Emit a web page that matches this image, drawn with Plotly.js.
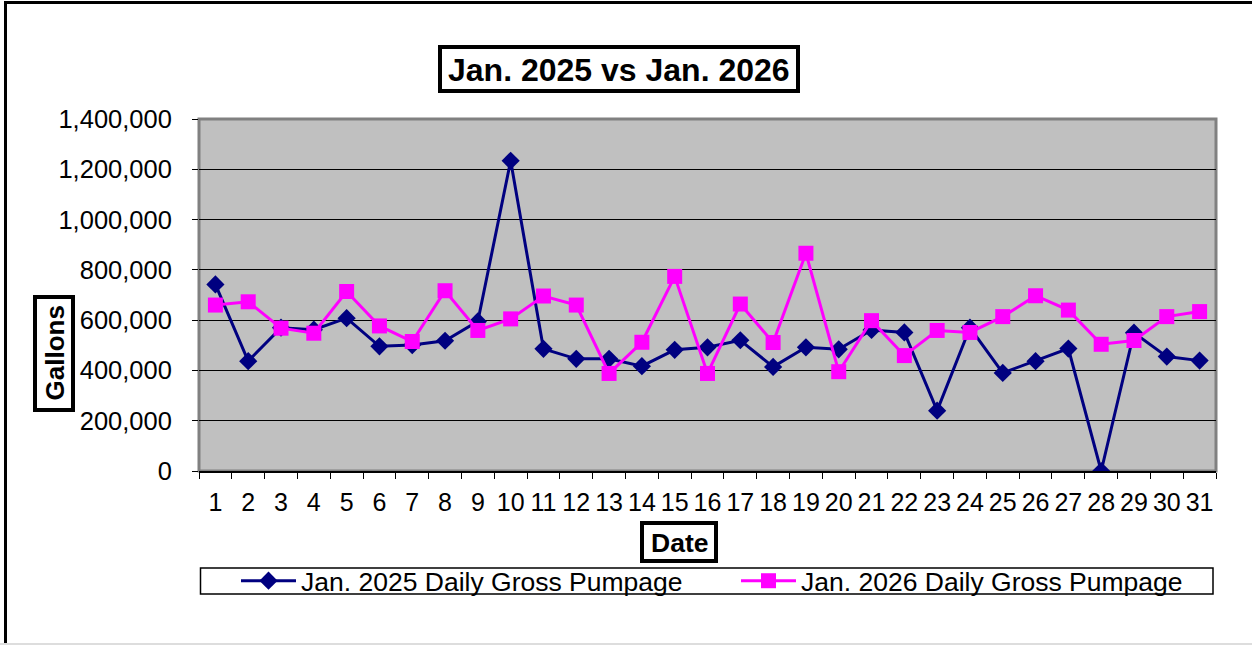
<!DOCTYPE html>
<html>
<head>
<meta charset="utf-8">
<script src="https://cdn.plot.ly/plotly-3.0.1.min.js"></script>
<style>html,body{margin:0;padding:0;background:#fff;}#chart{width:1252px;height:645px;}</style>
</head>
<body>
<div id="chart"></div>
<script>
// ---- data ----
const days = ['1','2','3','4','5','6','7','8','9','10','11','12','13','14','15','16','17','18','19','20','21','22','23','24','25','26','27','28','29','30','31'];
const pumpage2025 = [742000, 437000, 570000, 562000, 608000, 496000, 501000, 518000, 595000, 1234000, 486000, 446000, 446000, 417000, 482000, 492000, 520000, 414000, 492000, 484000, 561000, 551000, 240000, 570000, 390000, 437000, 487000, 0, 550000, 455000, 439000];
const pumpage2026 = [660000, 673000, 568000, 548000, 714000, 577000, 515000, 717000, 559000, 605000, 696000, 660000, 388000, 512000, 774000, 388000, 664000, 511000, 866000, 395000, 598000, 459000, 559000, 551000, 614000, 697000, 640000, 504000, 519000, 614000, 634000];
const seriesNames = ['Jan. 2025 Daily Gross Pumpage', 'Jan. 2026 Daily Gross Pumpage'];
const chartTitle = 'Jan. 2025 vs Jan. 2026';
const xTitle = 'Date';
const yTitle = 'Gallons';

// ---- layout geometry (pixels) ----
const W = 1252, H = 645;
const PL = 199, PR = 1216, PT = 119, PB = 471;
const px = x => (x - PL) / (PR - PL);
const py = y => (PB - y) / (PB - PT);
const FONT = 'Arial, "Liberation Sans", sans-serif';

function box(x0, y0, x1, y1, w, color) {
  return {type: 'rect', xref: 'paper', yref: 'paper', x0: px(x0), x1: px(x1), y0: py(y1), y1: py(y0),
          line: {color: color || '#000', width: w}, fillcolor: 'rgba(255,255,255,1)', layer: 'above'};
}

const traces = [
  {x: days, y: pumpage2025, name: seriesNames[0], type: 'scatter', mode: 'lines+markers',
   line: {color: '#000080', width: 3}, marker: {symbol: 'diamond', size: 14, color: '#000080'}},
  {x: days, y: pumpage2026, name: seriesNames[1], type: 'scatter', mode: 'lines+markers',
   line: {color: '#FF00FF', width: 3}, marker: {symbol: 'square', size: 15, color: '#FF00FF'}}
];

const layout = {
  width: W, height: H,
  margin: {l: PL, r: W - PR, t: PT, b: H - PB, pad: 0},
  paper_bgcolor: '#ffffff',
  plot_bgcolor: '#C0C0C0',
  font: {family: FONT, color: '#000'},
  showlegend: true,
  legend: {orientation: 'h', x: px(236), xanchor: 'left', y: py(581), yanchor: 'middle',
           font: {family: FONT, size: 26.5, color: '#000'}, bgcolor: 'rgba(0,0,0,0)',
           borderwidth: 0, entrywidth: 430, entrywidthmode: 'pixels', itemwidth: 55, tracegroupgap: 0},
  xaxis: {type: 'category', range: [-0.5, 30.5], tickson: 'boundaries', ticks: 'outside', ticklen: 6,
          tickcolor: '#000', tickwidth: 1, showgrid: false, showline: true, linecolor: '#000', linewidth: 2,
          tickangle: 0, tickfont: {family: FONT, size: 25, color: '#000'}, ticklabelstandoff: 8, fixedrange: true},
  yaxis: {range: [0, 1400000], dtick: 200000, tick0: 0, tickformat: ',d', ticks: 'outside', ticklen: 6,
          tickcolor: '#000', showgrid: true, gridcolor: '#000', gridwidth: 1, zeroline: false,
          showline: false, tickfont: {family: FONT, size: 25.5, color: '#000'}, ticklabelstandoff: 15, fixedrange: true},
  shapes: [
    // outer frame (top and left edges visible)
    {type: 'rect', xref: 'paper', yref: 'paper', x0: px(5.5), x1: px(1300), y0: py(700), y1: py(2.5),
     line: {color: '#000', width: 3}, layer: 'below'},
    {type: 'line', xref: 'paper', yref: 'paper', x0: px(0), x1: px(1252), y0: py(644), y1: py(644),
     line: {color: '#dddddd', width: 2}, layer: 'below'},
    // plot area border
    {type: 'rect', xref: 'paper', yref: 'paper', x0: 0, x1: 1, y0: 0, y1: 1,
     line: {color: '#808080', width: 3}, layer: 'below'},
    // legend frame
    {type: 'rect', xref: 'paper', yref: 'paper', x0: px(200.5), x1: px(1213), y0: py(594), y1: py(568),
     line: {color: '#000', width: 1.5}, layer: 'below'},
    // title, axis-title boxes
    box(440, 47, 798, 91, 4),
    box(35, 297, 73, 410, 4),
    box(642, 523, 716, 561, 4)
  ],
  annotations: [
    {text: '<b>' + chartTitle + '</b>', xref: 'paper', yref: 'paper', x: px(619), y: py(70),
     xanchor: 'center', yanchor: 'middle', showarrow: false, font: {family: FONT, size: 32, color: '#000'}},
    {text: '<b>' + yTitle + '</b>', xref: 'paper', yref: 'paper', x: px(54), y: py(353.5), textangle: -90,
     xanchor: 'center', yanchor: 'middle', showarrow: false, font: {family: FONT, size: 26, color: '#000'}},
    {text: '<b>' + xTitle + '</b>', xref: 'paper', yref: 'paper', x: px(679), y: py(542.5),
     xanchor: 'center', yanchor: 'middle', showarrow: false, font: {family: FONT, size: 26.5, color: '#000'}}
  ]
};

Plotly.newPlot('chart', traces, layout, {staticPlot: true, displayModeBar: false});
</script>
</body>
</html>
